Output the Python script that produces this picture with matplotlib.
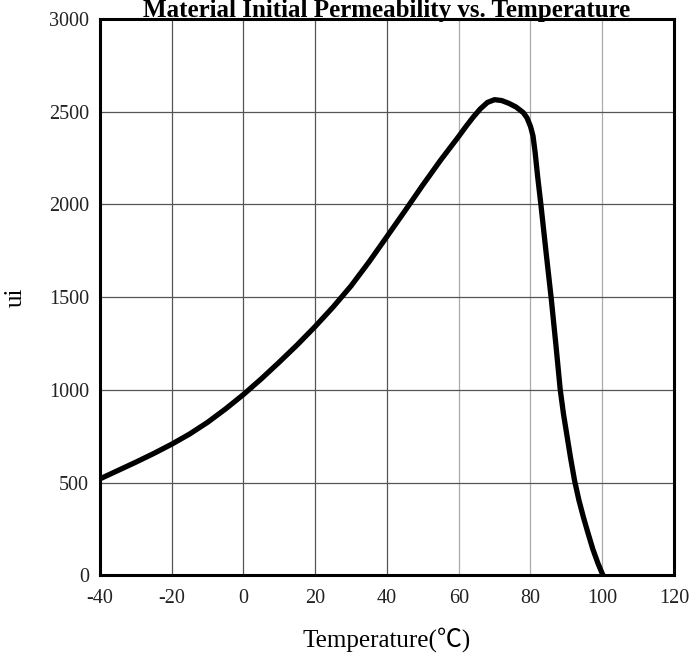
import numpy as np
import matplotlib.pyplot as plt

plt.rcParams['axes.unicode_minus'] = False

# values
temp = [-40, -35, -30, -25, -20, -15, -10, -5, 0, 5, 10, 15, 20, 25, 30, 35, 40,
        45, 50, 55, 60, 62, 64, 66, 68, 70, 72, 74, 76, 78, 79, 80, 80.7, 81.3,
        82, 82.9, 84.3, 85.8, 87.1, 88.3, 89.2, 90.2, 91.2, 92.3, 93.5, 94.8, 96, 97.4,
        98.8, 100.2]
ui = [520, 565, 610, 657, 707, 762, 825, 897, 975, 1060, 1150, 1243, 1342, 1447, 1561,
      1690, 1827, 1965, 2105, 2240, 2367, 2420, 2470, 2515, 2550, 2565, 2560,
      2545, 2525, 2495, 2468, 2421, 2370, 2280, 2150, 2000, 1750, 1490, 1240, 1000, 870,
      750, 630, 510, 405, 310, 230, 140, 65, 0]

xticks = [-40, -20, 0, 20, 40, 60, 80, 100, 120]
yticks = [0, 500, 1000, 1500, 2000, 2500, 3000]

fig = plt.figure(figsize=(6.89, 6.55), dpi=100)
ax = fig.add_axes([0.1451, 0.1217, 0.8331, 0.8493])

ax.plot(temp, ui, color='black', lw=3.8, solid_joinstyle='round',
        solid_capstyle='butt', zorder=3)

ax.set_xlim(-40, 120)
ax.set_ylim(0, 3000)
ax.set_xticks(xticks)
ax.set_yticks(yticks)
ax.grid(True, zorder=0)
for i, gl in enumerate(ax.xaxis.get_gridlines()):
    gl.set_linewidth(0.9)
    gl.set_color('#555555' if xticks[i] <= 40 else '#aaaaaa')
for gl in ax.yaxis.get_gridlines():
    gl.set_linewidth(0.9)
    gl.set_color('#555555')
ax.set_axisbelow(True)

for s in ax.spines.values():
    s.set_linewidth(2.2)

ax.tick_params(axis='x', length=0, labelsize=14.5, pad=10)
ax.tick_params(axis='y', length=0, labelsize=14.5, pad=8)
for lab in ax.get_xticklabels() + ax.get_yticklabels():
    lab.set_family('Liberation Serif')
    lab.set_color('#222222')

# y given explicitly so the small pad is honoured
ax.set_title('Material Initial Permeability vs. Temperature', fontsize=18,
             fontweight='bold', family='Liberation Serif', y=1.0, pad=1.2)
ax.set_xlabel('Temperature(℃)', fontsize=18, family=['Liberation Serif', 'Noto Sans CJK SC'],
              labelpad=14)
ax.set_ylabel('ui', fontsize=18, family='Liberation Serif', labelpad=16)

fig.savefig('out.png', dpi=100)
